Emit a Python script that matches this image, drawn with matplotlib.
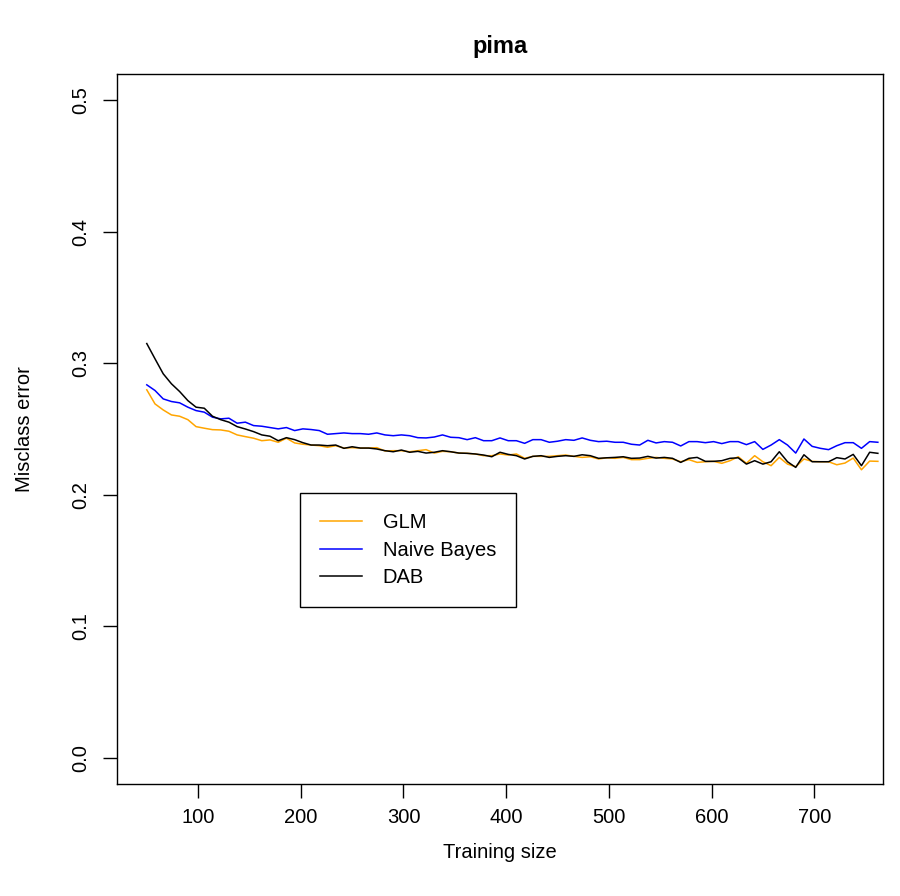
import numpy as np
import matplotlib
matplotlib.use("Agg")
import matplotlib.pyplot as plt

plt.rcParams['font.family'] = ['Liberation Sans', 'DejaVu Sans']

# ---- data ----
train_size = list(range(50, 763, 8))  # 90 training sizes

glm = [0.2798, 0.2691, 0.2645, 0.2607, 0.2597, 0.2571, 0.2518, 0.2506, 0.2495, 0.2493,
       0.2483, 0.2455, 0.2442, 0.2430, 0.2411, 0.2417, 0.2399, 0.2430, 0.2394, 0.2384,
       0.2378, 0.2373, 0.2361, 0.2373, 0.2355, 0.2358, 0.2355, 0.2355, 0.2358, 0.2333,
       0.2335, 0.2335, 0.2327, 0.2335, 0.2343, 0.2317, 0.2330, 0.2327, 0.2317, 0.2315,
       0.2310, 0.2297, 0.2297, 0.2310, 0.2302, 0.2310, 0.2277, 0.2292, 0.2292, 0.2292,
       0.2297, 0.2302, 0.2292, 0.2284, 0.2289, 0.2272, 0.2281, 0.2277, 0.2284, 0.2267,
       0.2267, 0.2277, 0.2284, 0.2277, 0.2272, 0.2251, 0.2267, 0.2246, 0.2251, 0.2254,
       0.2239, 0.2259, 0.2289, 0.2239, 0.2297, 0.2251, 0.2221, 0.2284, 0.2233, 0.2213,
       0.2272, 0.2254, 0.2251, 0.2251, 0.2228, 0.2241, 0.2279, 0.2190, 0.2256, 0.2254]

naive_bayes = [0.2836, 0.2793, 0.2729, 0.2709, 0.2699, 0.2666, 0.2640, 0.2628, 0.2590, 0.2577,
               0.2582, 0.2544, 0.2552, 0.2526, 0.2521, 0.2511, 0.2501, 0.2511, 0.2488, 0.2501,
               0.2496, 0.2488, 0.2460, 0.2465, 0.2470, 0.2465, 0.2465, 0.2460, 0.2470, 0.2455,
               0.2449, 0.2455, 0.2449, 0.2434, 0.2432, 0.2439, 0.2455, 0.2437, 0.2434, 0.2419,
               0.2434, 0.2411, 0.2411, 0.2432, 0.2411, 0.2411, 0.2391, 0.2419, 0.2419, 0.2399,
               0.2407, 0.2419, 0.2414, 0.2432, 0.2414, 0.2404, 0.2407, 0.2399, 0.2399, 0.2384,
               0.2378, 0.2414, 0.2394, 0.2404, 0.2399, 0.2371, 0.2404, 0.2404, 0.2396, 0.2404,
               0.2389, 0.2404, 0.2404, 0.2381, 0.2404, 0.2345, 0.2378, 0.2419, 0.2378, 0.2317,
               0.2424, 0.2368, 0.2353, 0.2343, 0.2373, 0.2396, 0.2396, 0.2353, 0.2404, 0.2399]

dab = [0.3150, 0.3034, 0.2920, 0.2844, 0.2785, 0.2716, 0.2666, 0.2658, 0.2597, 0.2571,
       0.2552, 0.2518, 0.2500, 0.2480, 0.2455, 0.2445, 0.2411, 0.2434, 0.2419, 0.2396,
       0.2378, 0.2378, 0.2373, 0.2378, 0.2353, 0.2365, 0.2355, 0.2355, 0.2348, 0.2335,
       0.2327, 0.2340, 0.2323, 0.2330, 0.2317, 0.2323, 0.2335, 0.2327, 0.2317, 0.2315,
       0.2310, 0.2302, 0.2289, 0.2323, 0.2307, 0.2297, 0.2272, 0.2292, 0.2297, 0.2284,
       0.2292, 0.2297, 0.2292, 0.2304, 0.2297, 0.2277, 0.2281, 0.2284, 0.2289, 0.2277,
       0.2279, 0.2292, 0.2279, 0.2284, 0.2277, 0.2246, 0.2277, 0.2284, 0.2254, 0.2254,
       0.2259, 0.2277, 0.2281, 0.2233, 0.2259, 0.2233, 0.2251, 0.2327, 0.2251, 0.2208,
       0.2304, 0.2251, 0.2251, 0.2251, 0.2282, 0.2272, 0.2307, 0.2221, 0.2323, 0.2315]

series_labels = ["GLM", "Naive Bayes", "DAB"]
series_colors = ["#FFA500", "#0000FF", "#000000"]
x_ticks = [100, 200, 300, 400, 500, 600, 700]
y_ticks = [0.0, 0.1, 0.2, 0.3, 0.4, 0.5]
y_ticklabels = ["0.0", "0.1", "0.2", "0.3", "0.4", "0.5"]

# ---- figure ----
W, H = 900, 896
FS = 14.5
fig = plt.figure(figsize=(W / 100, H / 100), dpi=100)
L, R, T, B = 117, 883, 74, 784
ax = fig.add_axes([L / W, 1 - B / H, (R - L) / W, (B - T) / H])

for y, lab, col in zip([glm, naive_bayes, dab], series_labels, series_colors):
    ax.plot(train_size, y, color=col, lw=1.1, label=lab)

ax.set_xlim(21, 767)
ax.set_ylim(-0.02, 0.52)
ax.set_xticks(x_ticks)
ax.set_xticklabels([str(v) for v in x_ticks])
ax.set_yticks(y_ticks)
ax.set_yticklabels(y_ticklabels, rotation=90, va='center')

for s in ax.spines.values():
    s.set_linewidth(1.0)
    s.set_color('black')
ax.tick_params(axis='both', direction='out', length=10, width=1.0,
               labelsize=FS, colors='black')
ax.tick_params(axis='x', pad=7)
ax.tick_params(axis='y', pad=9)

leg = ax.legend(loc='upper left', bbox_to_anchor=((300 - L) / (R - L), (B - 493) / (B - T)),
                fontsize=FS, frameon=True, fancybox=False, framealpha=1,
                edgecolor='black', handlelength=2.1, handletextpad=1.0,
                borderpad=1.0, labelspacing=0.42, borderaxespad=0)
leg.get_frame().set_linewidth(1.0)

fig.text(500 / W, 1 - 47 / H, "pima", ha='center', va='center',
         fontsize=17, fontweight='bold')
fig.text(500 / W, 1 - 852 / H, "Training size", ha='center', va='center', fontsize=FS)
fig.text(25 / W, 1 - 429 / H, "Misclass error", ha='center', va='center',
         rotation=90, fontsize=FS)

fig.savefig("out.png", dpi=100)
